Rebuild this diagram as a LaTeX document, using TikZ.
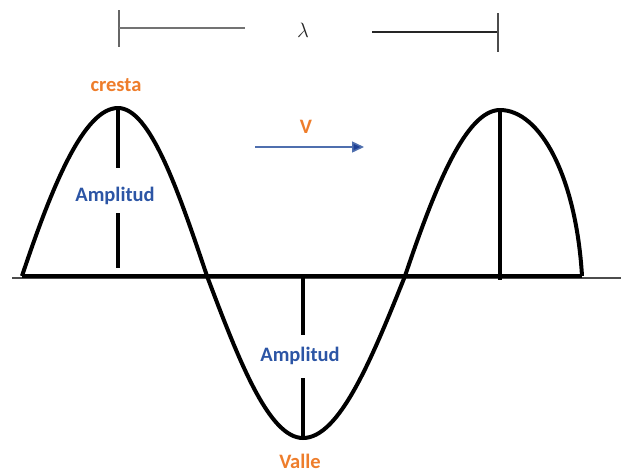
\documentclass[tikz,border=0pt]{standalone}
\usepackage{fontspec}
\setmainfont{Carlito}
\usetikzlibrary{arrows.meta}
\definecolor{lorange}{HTML}{EE7D2B}
\definecolor{lblue}{HTML}{2C55A5}
\definecolor{arrowblue}{HTML}{4F6FAE}
\definecolor{headblue}{HTML}{1F4196}
\tikzset{
  wave/.style={line width=4pt, line join=round, black},
  amp/.style={line width=4pt, black},
  lbl/.style={inner sep=0pt, font=\fontsize{20.5}{24}\selectfont\bfseries},
  orangelbl/.style={lbl, text=lorange},
  bluelbl/.style={lbl, text=lblue},
  barline/.style={line width=1.6pt}
}
\begin{document}
\begin{tikzpicture}[x=1pt,y=-1pt]
\useasboundingbox (0,0) rectangle (621,472);
% key points
\coordinate (s0) at (22,276);
\coordinate (c1) at (118,108);
\coordinate (z1) at (207,276);
\coordinate (t1) at (303,438);
\coordinate (z2) at (405,276);
\coordinate (c2) at (500,110);
\coordinate (e0) at (582,276);
\coordinate (axL) at (12,278);
\coordinate (axR) at (621,278);
% thin axis and thick baseline
\draw[line width=1.4pt, black!70] (axL) -- (axR);
\draw[amp] (s0) -- (e0);
% wave
\draw[wave] (s0) .. controls (52,186) and (84,108) .. (c1)
  .. controls (150,108) and (178,190) .. (z1)
  .. controls (239,361) and (269,438) .. (t1)
  .. controls (339,438) and (371,361) .. (z2)
  .. controls (435,187) and (466,110) .. (c2)
  .. controls (540,110) and (576,176) .. (e0);
% labels
\node[orangelbl] (cresta) at (116,85) {cresta};
\node[bluelbl] (amp1) at (115,196) {Amplitud};
\node[orangelbl] (vel) at (306,127) {V};
\node[bluelbl] (amp2) at (300,356) {Amplitud};
\node[orangelbl] (valle) at (300,461) {Valle};
\node[inner sep=0pt, text=black!85, font=\fontsize{22}{26}\selectfont] (lam) at (303,30) {$\lambda$};
% amplitude lines
\coordinate (a1b) at (118,168);
\coordinate (a1c) at (118,213);
\coordinate (a1d) at (118,268);
\draw[amp] (c1) -- (a1b);
\draw[amp] (a1c) -- (a1d);
\coordinate (c2b) at (500,280);
\draw[amp] (c2) -- (c2b);
\coordinate (a2a) at (303,278);
\coordinate (a2b) at (303,335);
\coordinate (a2c) at (303,378);
\draw[amp] (a2a) -- (a2b);
\draw[amp] (a2c) -- (t1);
% velocity arrow
\coordinate (vA) at (255,147);
\coordinate (vB) at (364,147);
\draw[line width=1.5pt, arrowblue, -{Triangle[length=12pt,width=11pt,fill=headblue]}] (vA) -- (vB);
% wavelength bar
\coordinate (lt1) at (119,10);
\coordinate (lt2) at (119,47);
\coordinate (ll1) at (119,28);
\coordinate (ll2) at (245,28);
\coordinate (lr1) at (372,32);
\coordinate (lr2) at (498,32);
\coordinate (rt1) at (498,13);
\coordinate (rt2) at (498,52);
\draw[barline, black!60] (lt1) -- (lt2);
\draw[barline, black!55] (ll1) -- (ll2);
\draw[barline, line width=1.9pt, black!85] (lr1) -- (lr2);
\draw[barline, black!70] (rt1) -- (rt2);
\end{tikzpicture}
\end{document}
